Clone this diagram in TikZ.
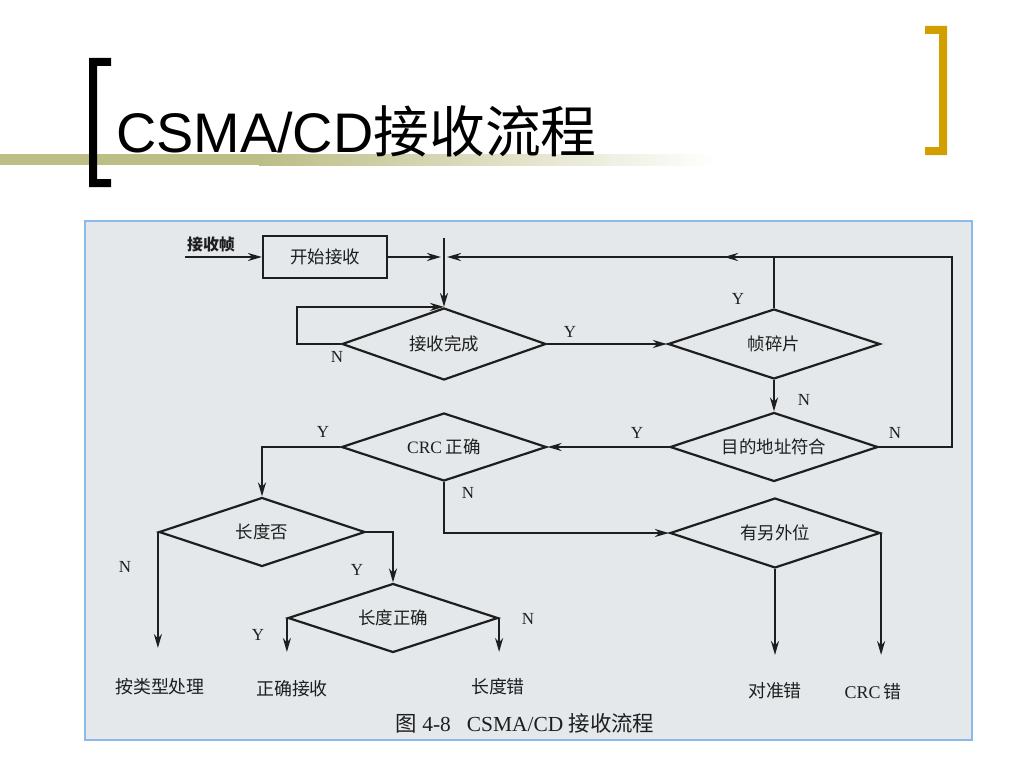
\documentclass[tikz,border=0pt]{standalone}
\usepackage{fontspec}
\setmainfont{Liberation Serif}
\newfontfamily\cjk{Noto Sans CJK SC}
\newfontfamily\titlesans{Liberation Sans}
\usetikzlibrary{shapes.geometric,arrows.meta,calc}
\definecolor{slideolive}{HTML}{BDBD86}
\definecolor{slidegold}{HTML}{D1A000}
\definecolor{panelbg}{HTML}{E4E8EA}
\definecolor{panelborder}{HTML}{8CBAE8}
\definecolor{ink}{HTML}{1E1E1E}
\tikzset{
  flow/.style={draw=ink, line width=2.2bp},
  arr/.style={flow, -{Stealth[length=14bp,width=8bp]}},
  dia/.style={shape=diamond, draw=ink, line width=2.2bp, inner sep=0pt, aspect=3,
    font=\cjk\fontsize{17.5}{19}\selectfont, text=ink},
  boxnode/.style={draw=ink, line width=2.2bp, minimum width=124bp, minimum height=42bp,
    font=\cjk\fontsize{17.5}{19}\selectfont, text=ink},
  yn/.style={font=\fontsize{17}{18}\selectfont, text=ink, inner sep=0pt},
  endlabel/.style={font=\fontsize{18}{20}\selectfont, text=ink, inner sep=0pt},
}
\begin{document}
\begin{tikzpicture}[x=1bp,y=-1bp]
\useasboundingbox (0,0) rectangle (1024,768);
\fill[white] (0,0) rectangle (1024,768);
% title decoration
\fill[slideolive] (0,154) rectangle (260,165);
\shade[left color=slideolive, right color=white] (259,154) rectangle (720,165);
\fill[black] (89,58) -- (111,58) -- (111,66) -- (97,66) -- (97,179) -- (111,179) -- (111,187) -- (89,187) -- cycle;
\fill[slidegold] (947,26) -- (925,26) -- (925,34) -- (939,34) -- (939,147) -- (925,147) -- (925,155) -- (947,155) -- cycle;
\node[anchor=base west, inner sep=0pt, text=black] (title) at (116,152)
  {\fontsize{56}{60}\selectfont\titlesans CSMA/CD\cjk 接收流程};
% panel
\draw[fill=panelbg, draw=panelborder, line width=2bp] (85,221) rectangle (972,740);
% nodes
\node[boxnode] (start) at (325,257) {开始接收};
\node[dia, minimum width=204bp, minimum height=72bp] (done) at (444,344) {接收完成};
\node[dia, minimum width=212bp, minimum height=70bp] (frag) at (774,344) {帧碎片};
\node[dia, minimum width=208bp, minimum height=69bp] (dest) at (774,447) {目的地址符合};
\node[dia, minimum width=205bp, minimum height=68bp] (crc) at (444,447) {{\rmfamily CRC} 正确};
\node[dia, minimum width=210bp, minimum height=70bp] (extra) at (775,533) {有另外位};
\node[dia, minimum width=206bp, minimum height=69bp] (lenq) at (262,532) {长度否};
\node[dia, minimum width=210bp, minimum height=69bp] (lenok) at (393,618) {长度正确};
% coordinates
\coordinate (in) at (185,257);
\coordinate (jtop) at (444,238);
\coordinate (jl) at (441,257);
\coordinate (jr) at (447,257);
\coordinate (rc) at (952,257);
\coordinate (fragup) at (774,257);
\coordinate (midtip) at (724,257);
\coordinate (loopx) at (297,309);
\coordinate (endA) at (157,648);
\coordinate (endB) at (288,652);
\coordinate (endC) at (498,652);
\coordinate (endD) at (775,655);
\coordinate (endE) at (880,655);
% text labels
\node[font=\cjk\bfseries\fontsize{16}{17}\selectfont, text=ink, inner sep=0pt] (recvframe) at (211,244) {接收帧};
\node[endlabel] (t1) at (160,687) {\cjk 按类型处理};
\node[endlabel] (t2) at (292,689) {\cjk 正确接收};
\node[endlabel] (t3) at (498,687) {\cjk 长度错};
\node[endlabel] (t4) at (775,691) {\cjk 对准错};
\node[endlabel] (t5) at (873,692) {CRC\,{\cjk 错}};
\node[font=\fontsize{21.5}{23}\selectfont, text=ink, inner sep=0pt] (cap) at (525,723) {{\cjk 图} 4-8\hspace{16bp}CSMA/CD {\cjk 接收流程}};
% connectors
\draw[arr] (in) -- (start.west);
\draw[arr] (start.east) -- (jl);
\draw[arr] (jtop) -- (done.north);
\draw[arr] (dest.east) -- (rc |- dest.east) -- (rc) -- (jr);
\draw[arr] (fragup) -- (midtip);
\draw[flow] (frag.north) -- (fragup);
\draw[arr] (done.west) -- (done.west -| loopx) |- (done.north);
\draw[arr] (done.east) -- (frag.west);
\draw[arr] (frag.south) -- (dest.north);
\draw[arr] (dest.west) -- (crc.east);
\draw[arr] (crc.west) -| (lenq.north);
\draw[arr] (crc.south) |- (extra.west);
\draw[arr] (extra.south) -- (extra.south |- endD);
\draw[arr] (extra.east) -- (extra.east |- endE);
\draw[arr] (lenq.west) -- (lenq.west |- endA);
\draw[arr] (lenq.east) -| (lenok.north);
\draw[arr] (lenok.west) -- (lenok.west |- endB);
\draw[arr] (lenok.east) -- (lenok.east |- endC);
% Y/N labels
\node[yn] (l1) at (337,357) {N};
\node[yn] (l2) at (570,332) {Y};
\node[yn] (l3) at (738,299) {Y};
\node[yn] (l4) at (804,400) {N};
\node[yn] (l5) at (895,433) {N};
\node[yn] (l6) at (637,433) {Y};
\node[yn] (l7) at (323,432) {Y};
\node[yn] (l8) at (468,493) {N};
\node[yn] (l9) at (125,567) {N};
\node[yn] (l10) at (357,570) {Y};
\node[yn] (l11) at (258,635) {Y};
\node[yn] (l12) at (528,619) {N};
\end{tikzpicture}
\end{document}
